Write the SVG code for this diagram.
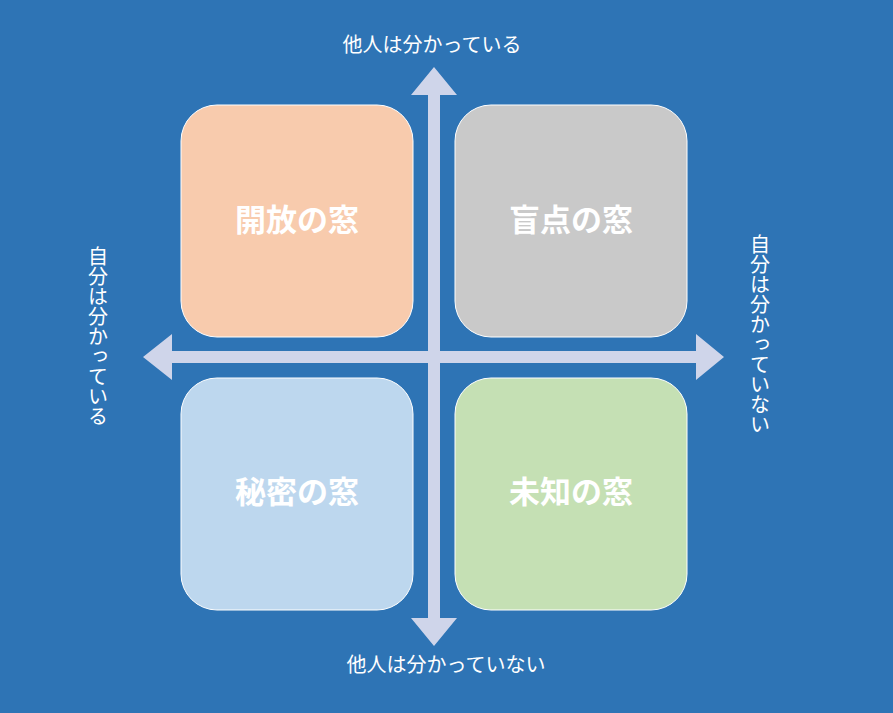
<svg xmlns="http://www.w3.org/2000/svg" width="893" height="713" viewBox="0 0 893 713">
<style>
.box{stroke:#fff;stroke-width:1}
.lbl{font-family:"Noto Sans CJK JP",sans-serif;font-size:31px;font-weight:bold;fill:#fff;text-anchor:middle}
.ax{font-family:"Noto Sans CJK JP",sans-serif;font-size:20px;fill:#fff}
.v{writing-mode:vertical-rl;text-anchor:start}
</style>
<rect width="893" height="713" fill="#2e74b5"/>
<g id="n1"><rect class="box" x="181" y="105" width="232" height="232" rx="36" fill="#f8cbad"/><text class="lbl" x="297" y="231">開放の窓</text></g>
<g id="n2"><rect class="box" x="455" y="105" width="232" height="232" rx="36" fill="#c9c9c9"/><text class="lbl" x="571" y="231">盲点の窓</text></g>
<g id="n3"><rect class="box" x="181" y="378" width="232" height="232" rx="36" fill="#bdd7ee"/><text class="lbl" x="297" y="503">秘密の窓</text></g>
<g id="n4"><rect class="box" x="455" y="378" width="232" height="232" rx="36" fill="#c5e0b4"/><text class="lbl" x="571" y="503">未知の窓</text></g>
<g id="connectors" fill="#cfd5ea">
<polygon points="434,67 457,95 440,95 440,618 457,618 434,646 411,618 428,618 428,95 411,95"/>
<polygon points="143,357 172,334 172,351 696,351 696,334 724,357 696,380 696,363 172,363 172,380"/>
</g>
<g id="labels">
<text class="ax" x="432" y="52" text-anchor="middle">他人は分かっている</text>
<text class="ax" x="446" y="672" text-anchor="middle">他人は分かっていない</text>
<text class="ax v" x="98" y="246">自分は分かっている</text>
<text class="ax v" x="760" y="234">自分は分かっていない</text>
</g>
</svg>
